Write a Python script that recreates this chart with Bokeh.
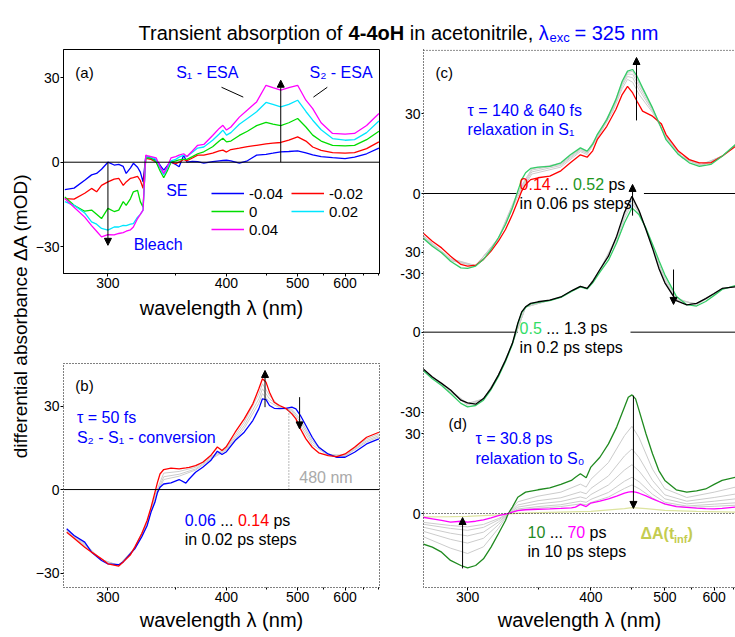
import json
import math
from bokeh.plotting import figure
from bokeh.models import (Range1d, FixedTicker, CustomJSTickFormatter, Label, Arrow, NormalHead,
                          Span, Legend, LegendItem)
from bokeh.layouts import row, column
from bokeh.embed import file_html
from bokeh.resources import INLINE

FONT = "Liberation Sans"

# ---------------------------------------------------------------- data
x_major = [300, 400, 500, 600]
x_minor = [350, 450, 550, 650, 700]

# panel (a): delay times -0.04 ... 0.04 ps
wl_a = [275, 280, 286, 290, 293, 296, 300, 304, 307, 310, 312, 315, 317, 320, 322, 324, 326, 328, 330, 334,
        337, 340, 343, 346, 350, 353, 357, 360, 365, 370, 376, 385, 392, 396, 400, 405, 415, 425, 437, 450,
        460, 472, 485, 500, 515, 528, 545, 570, 600, 625, 660, 700]
a_labels = ["-0.04", "-0.02", "0", "0.02", "0.04"]
a_m004 = [-9.7, -9.2, -6.4, -4.5, -4.0, -2.5, 0.0, -1.0, -0.8, -1.5, -4.0, -2.0, -0.4, -1.8, -3.5, -7.0, 2.0, 1.8,
          1.4, 0.7, -1.0, -2.8, -1.2, 0.0, -0.8, -1.6, 2.5, 0.0, 0.3, 0.2, -0.3, 0.2, 0.5, 0.6, 0.7, 0.5, -0.3,
          0.5, 2.5, 2.8, 3.2, 3.7, 3.8, 4.0, 3.3, 2.6, 2.0, 1.6, 1.3, 1.8, 3.0, 5.0]
a_m002 = [-12.9, -13.1, -11.0, -9.3, -10.5, -8.2, -7.0, -6.0, -5.7, -8.2, -7.0, -5.7, -5.5, -5.0, -6.5, -9.3, 1.4,
          1.2, 1.0, 0.0, -2.0, -4.0, -2.0, 0.0, -0.5, 0.0, 1.0, 0.5, 1.5, 2.5, 2.5, 3.2, 4.0, 4.3, 3.6, 4.5, 5.0,
          5.5, 6.0, 6.5, 6.8, 7.0, 7.8, 9.0, 7.5, 5.4, 4.2, 3.4, 3.2, 3.4, 4.8, 7.2]
a_0 = [-12.3, -15.3, -17.4, -17.0, -18.5, -20.0, -16.4, -17.5, -17.0, -14.0, -15.3, -12.9, -10.5, -10.0, -14.0,
       -16.0, 1.5, 1.5, 1.5, 0.0, -3.0, -5.5, -3.0, 0.0, 0.5, 0.8, 1.0, 1.0, 2.0, 3.0, 3.7, 5.5, 7.5, 8.5, 7.2,
       7.5, 9.5, 11.0, 13.0, 14.1, 13.5, 13.0, 14.0, 15.5, 12.5, 9.6, 7.5, 6.0, 5.8, 6.0, 8.0, 11.0]
a_p002 = [-14.0, -15.3, -18.0, -21.2, -22.0, -23.5, -24.1, -23.0, -23.0, -22.4, -22.5, -22.0, -21.8, -19.5, -18.5,
          -17.0, 2.0, 2.0, 1.8, 1.0, -2.0, -4.5, -2.0, 0.5, 1.0, 1.8, 2.5, 2.0, 3.5, 5.0, 5.4, 7.8, 10.0, 11.4,
          9.6, 10.5, 13.5, 15.5, 17.9, 21.2, 20.5, 19.6, 20.5, 22.0, 18.0, 14.9, 11.5, 8.4, 7.8, 8.0, 10.5, 14.6]
a_p004 = [-12.9, -16.0, -19.5, -22.5, -24.5, -26.5, -25.7, -25.8, -25.3, -25.0, -24.5, -24.0, -23.0, -20.0, -18.5,
          -17.0, 2.5, 2.2, 2.0, 1.5, -1.5, -4.0, -1.5, 1.5, 2.0, 2.5, 3.0, 2.0, 4.0, 6.0, 6.3, 9.5, 12.0, 13.1,
          11.4, 12.5, 16.0, 18.5, 21.4, 27.3, 26.5, 25.6, 26.5, 27.3, 22.0, 19.0, 14.0, 10.2, 10.0, 10.2, 13.0, 17.3]

# panel (b): 0.06 ... 0.14 ps
wl_b = [276, 280, 286, 290, 296, 300, 307, 310, 315, 318, 323, 327, 330, 333, 335, 337, 340, 346, 353, 359, 362,
        368, 375, 383, 390, 395, 400, 410, 421, 432, 440, 445, 450, 455, 462, 470, 480, 490, 497, 505, 515, 527,
        540, 560, 580, 600, 625, 660, 700]
b_006 = [-14.1, -16.5, -18.9, -22.5, -25.5, -26.7, -27.0, -26.0, -23.0, -21.3, -17.0, -13.0, -8.1, -4.6, -1.0, 0.8,
         2.0, 2.4, 3.6, 2.3, 3.8, 6.2, 8.0, 10.4, 13.8, 12.6, 13.6, 17.6, 20.6, 24.8, 29.0, 32.6, 32.3, 30.2, 29.2,
         29.1, 29.2, 29.6, 29.0, 26.6, 23.0, 18.8, 15.2, 12.8, 11.6, 11.6, 13.4, 16.4, 18.2]
b_014 = [-15.3, -17.5, -20.7, -22.5, -24.9, -26.7, -27.5, -26.0, -23.4, -20.7, -15.9, -11.1, -6.4, -1.0, 2.6, 5.6,
         7.2, 7.7, 7.4, 7.8, 8.0, 8.6, 9.8, 12.2, 15.3, 14.0, 15.5, 20.6, 25.4, 30.8, 36.2, 39.8, 38.6, 35.0, 31.4,
         30.2, 29.2, 27.2, 25.4, 21.8, 18.2, 15.2, 13.2, 12.2, 11.8, 12.8, 15.2, 18.8, 20.6]
wl_bg = [276, 286, 296, 307, 318, 327, 333, 340, 353, 368, 383, 400, 421, 440, 445, 455, 470, 490, 505, 527, 560,
         600, 660, 700]
b_008 = [-14.5, -19.4, -25.3, -27.2, -21.1, -12.4, -3.5, 3.6, 4.8, 7.0, 10.9, 14.2, 22.0, 31.0, 34.5, 31.5, 29.4,
         28.9, 25.2, 17.7, 12.6, 12.0, 17.1, 18.9]
b_010 = [-14.7, -19.8, -25.2, -27.3, -21.0, -12.0, -2.8, 4.6, 5.5, 7.4, 11.3, 14.6, 23.0, 32.6, 36.2, 32.6, 29.7,
         28.4, 24.2, 17.0, 12.5, 12.2, 17.6, 19.4]
b_012 = [-15.0, -20.2, -25.1, -27.4, -20.8, -11.6, -2.0, 5.9, 6.5, 8.0, 11.7, 15.0, 24.2, 34.4, 38.0, 33.8, 29.9,
         27.8, 23.0, 16.1, 12.3, 12.5, 18.2, 20.0]

# panel (c), upper: 0.14 ... 0.52 ps
wl_c = [275, 280, 285, 290, 296, 300, 305, 310, 315, 320, 325, 330, 334, 337, 340, 344, 350, 360, 370, 379, 389,
        396, 402, 407, 418, 429, 437, 444, 451, 457, 465, 480, 494, 502, 524, 545, 566, 592, 620, 657]
c_014 = [-14.7, -17.9, -20.4, -23.5, -26.6, -27.2, -26.9, -24.7, -21.6, -17.9, -13.5, -7.9, -2.9, 0.9, 3.4, 5.2,
         5.9, 6.5, 8.5, 11.5, 14.5, 13.6, 16.0, 20.2, 25.2, 31.5, 37.1, 40.2, 37.7, 34.6, 30.9, 29.0, 26.2, 22.1,
         15.9, 12.7, 11.5, 11.5, 14.0, 17.7]
c_052 = [-16.6, -19.8, -22.2, -25.4, -27.9, -28.1, -27.2, -24.7, -21.0, -16.6, -11.6, -5.4, 0.9, 5.2, 7.8, 9.4,
         9.9, 10.2, 11.5, 14.5, 17.1, 15.9, 18.5, 22.1, 27.7, 35.2, 42.1, 45.9, 46.5, 44.0, 39.6, 32.1, 24.6, 20.2,
         14.6, 11.5, 10.2, 10.9, 14.0, 18.4]
wl_cg = [275, 290, 305, 320, 334, 345, 370, 389, 396, 410, 425, 437, 444, 451, 460, 480, 500, 530, 570, 620, 657]
c_gray = [
    [-15.6, -24.4, -27.0, -17.3, -1.2, 7.3, 9.9, 15.7, 14.6, 22.4, 30.6, 39.3, 42.8, 41.7, 37.1, 30.4, 22.2, 14.0,
     10.9, 14.0, 18.0],
    [-15.9, -24.7, -27.1, -17.1, -0.4, 8.1, 10.5, 16.2, 15.1, 22.9, 31.3, 40.4, 43.9, 43.4, 38.9, 31.0, 21.8, 13.7,
     10.7, 14.0, 18.2],
    [-16.2, -25.0, -27.1, -16.9, 0.1, 8.8, 10.9, 16.6, 15.4, 23.2, 31.8, 41.1, 44.8, 44.7, 40.2, 31.5, 21.6, 13.5,
     10.5, 14.0, 18.3],
    [-16.4, -25.2, -27.2, -16.7, 0.6, 9.3, 11.3, 16.9, 15.7, 23.4, 32.2, 41.7, 45.4, 45.8, 41.3, 31.9, 21.4, 13.4,
     10.3, 14.0, 18.3],
]

# panel (c), lower: 0.5 ... 1.3 ps
wl_lc = [275, 280, 285, 290, 296, 300, 305, 310, 315, 320, 325, 330, 332, 334, 337, 340, 344, 350, 360, 370, 381,
         389, 396, 402, 410, 420, 430, 440, 450, 460, 470, 480, 490, 500, 520, 540, 560, 580, 600, 620, 657]
lc_05 = [-14.2, -17.5, -20.0, -23.0, -26.7, -28.0, -27.5, -25.5, -21.5, -16.7, -11.0, -4.5, -1.0, 3.0, 7.3, 9.3,
         10.6, 11.2, 11.8, 13.0, 15.5, 17.0, 16.2, 18.5, 22.5, 27.0, 33.5, 41.0, 46.6, 44.0, 39.0, 33.0, 27.0, 21.5,
         13.5, 10.3, 9.8, 11.5, 13.8, 16.0, 17.5]
lc_13 = [-13.6, -16.8, -19.2, -21.7, -25.5, -26.5, -27.0, -24.9, -21.1, -16.1, -10.5, -4.2, -0.5, 3.3, 7.6, 9.5,
         10.8, 11.4, 12.0, 13.2, 15.7, 17.2, 16.4, 19.0, 23.5, 28.5, 36.0, 45.0, 51.0, 45.5, 38.5, 31.5, 24.0, 18.5,
         11.8, 10.2, 10.8, 12.6, 14.5, 16.4, 17.0]
wl_lg = [275, 290, 300, 310, 320, 330, 340, 370, 389, 396, 410, 430, 440, 450, 460, 470, 480, 490, 500, 520, 560,
         620, 657]
lc_gray = [
    [-14.0, -22.5, -27.4, -25.3, -16.5, -4.4, 9.4, 13.1, 17.1, 16.3, 22.9, 34.5, 42.6, 48.4, 44.6, 38.8, 32.4, 25.8,
     20.3, 12.8, 10.2, 16.2, 17.3],
    [-13.8, -22.1, -26.9, -25.1, -16.3, -4.3, 9.4, 13.1, 17.1, 16.3, 23.2, 35.3, 43.8, 49.7, 45.1, 38.7, 31.9, 24.9,
     19.4, 12.3, 10.5, 16.3, 17.2],
    [-13.7, -21.9, -26.7, -25.0, -16.2, -4.2, 9.5, 13.2, 17.2, 16.4, 23.4, 35.7, 44.5, 50.5, 45.3, 38.6, 31.7, 24.4,
     18.9, 12.0, 10.7, 16.4, 17.1],
]

# panel (d): 10 ... 70 ps
wl_d = [275, 280, 285, 290, 296, 300, 305, 310, 315, 320, 325, 327, 330, 334, 340, 350, 360, 370, 380, 384, 389,
        395, 400, 410, 420, 430, 440, 445, 450, 455, 460, 470, 480, 490, 500, 520, 540, 560, 580, 600, 620, 657]
d_10 = [-11.4, -12.6, -14.5, -17.6, -19.5, -20.4, -19.5, -17.0, -12.6, -7.6, -2.6, 0.0, 2.4, 6.1, 8.0, 8.9, 9.6,
        10.9, 12.4, 13.6, 14.9, 13.4, 17.4, 21.1, 26.1, 32.4, 39.9, 43.6, 44.5, 43.0, 38.6, 29.9, 22.4, 16.1, 12.4,
        8.9, 8.0, 8.5, 9.2, 10.9, 12.4, 13.6]
d_70 = [-1.4, -2.0, -2.6, -3.2, -2.9, -3.2, -2.9, -2.4, -1.6, -0.8, -0.2, 0.0, 0.5, 1.1, 1.4, 1.6, 1.7, 1.9, 2.1,
        2.4, 3.4, 2.6, 3.9, 4.6, 5.5, 6.5, 7.6, 8.0, 8.2, 8.0, 7.6, 6.6, 5.5, 4.5, 3.6, 2.6, 2.3, 2.0, 1.8, 1.7,
        1.9, 2.4]
wl_dg = [275, 290, 300, 310, 320, 327, 334, 350, 370, 389, 395, 400, 420, 440, 450, 460, 480, 500, 540, 600, 657]
d_gray = [
    [-8.6, -13.0, -15.0, -12.5, -5.6, 0.0, 4.4, 6.5, 8.0, 11.0, 9.9, 12.8, 19.1, 29.2, 32.7, 28.4, 16.6, 9.3, 6.0,
     8.0, 9.9],
    [-6.6, -9.7, -11.1, -9.3, -4.2, 0.0, 3.2, 4.8, 5.9, 8.1, 7.4, 9.4, 14.1, 21.6, 24.2, 21.0, 12.4, 7.0, 4.6, 6.0,
     7.3],
    [-5.1, -7.4, -8.4, -7.0, -3.2, 0.0, 2.4, 3.6, 4.5, 6.2, 5.6, 7.1, 10.7, 16.3, 18.3, 15.9, 9.5, 5.5, 3.6, 4.6,
     5.5],
    [-4.0, -5.6, -6.3, -5.2, -2.4, 0.0, 1.7, 2.6, 3.3, 4.6, 4.2, 5.3, 7.9, 12.1, 13.6, 11.9, 7.2, 4.2, 2.8, 3.5,
     4.0],
    [-3.3, -4.5, -5.0, -4.1, -1.9, 0.0, 1.3, 2.0, 2.6, 3.6, 3.3, 4.1, 6.2, 9.4, 10.7, 9.3, 5.8, 3.4, 2.3, 2.7, 3.1],
]
wl_t = [275, 290, 300, 320, 330, 350, 400, 440, 450, 470, 500, 560, 657]
d_inf = [-1.3, -1.2, -1.1, -0.5, 0.0, 0.3, 0.8, 1.8, 2.2, 1.8, 1.2, 0.8, 0.5]

# vertical offsets of the stacked spectra in the right column
OFF_CU, OFF_CL, OFF_D = 120, 68, 0

# ---------------------------------------------------------------- colours
BLUE, RED, MAG = "#0000ff", "#ff0000", "#ff00ff"
A_GREEN, A_CYAN = "#00dd00", "#00e6ff"
GRAY = "#cccccc"
C_GREEN, C_GREEN_TXT, C_LGREEN_TXT = "#33cc66", "#1e961e", "#33dd66"
D_GREEN = "#1f8a1f"
INF_LINE, INF_TXT = "#dde4a0", "#c4cc50"


def wn(seq):
    return [1e7 / v for v in seq]


def k(lam):
    return 1e7 / lam


def fig(w, h, xr, yr, **kw):
    p = figure(width=w, height=h, x_range=xr, y_range=yr, output_backend="svg", toolbar_location=None, **kw)
    p.xgrid.visible = False
    p.ygrid.visible = False
    p.background_fill_color = "white"
    p.border_fill_color = "white"
    return p


def style_axes(p, yticks, dotted=False, minor=x_minor):
    ax = p.xaxis[0]
    ax.ticker = FixedTicker(ticks=wn(x_major), minor_ticks=wn(minor))
    ax.formatter = CustomJSTickFormatter(code="return Math.round(1e7/tick).toString();")
    ax.axis_label = "wavelength \u03bb (nm)"
    ay = p.yaxis[0]
    if yticks is not None:
        ay.ticker = FixedTicker(ticks=yticks, minor_ticks=[])
    for a in (ax, ay):
        a.major_label_text_font = FONT
        a.major_label_text_font_size = "14px"
        a.major_label_text_color = "black"
        a.major_tick_in = 0
        a.major_tick_out = 3
        a.minor_tick_in = 0
        a.minor_tick_out = 2
        a.major_label_standoff = 1
        a.axis_label_text_font = FONT
        a.axis_label_text_font_size = "20px"
        a.axis_label_text_font_style = "normal"
        a.axis_label_text_color = "black"
        a.axis_line_color = "black"
        if dotted:
            a.axis_line_dash = "1 2"
    ax.axis_label_standoff = 4


def lab(p, lam, y, text, color="black", size=16, xo=0, yo=0, st="normal"):
    p.add_layout(Label(x=k(lam), y=y, text=text, text_color=color, text_font=FONT,
                       text_font_size=f"{size}px", text_font_style=st, text_baseline="middle",
                       text_align="left", x_offset=xo, y_offset=yo))


def arrow(p, lam, y0, y1):
    p.add_layout(Arrow(end=NormalHead(size=7, fill_color="black", line_color="black", line_width=1),
                       x_start=k(lam), y_start=y0, x_end=k(lam), y_end=y1, line_width=1, line_color="black"))


XR_LEFT = (k(274.3), k(702.0))
TOP_H, BODY_H = 46, 591
YL_W, LEFT_W, RIGHT_W = 32, 358, 345

# ---------------------------------------------------------------- title
tf = fig(YL_W + LEFT_W + RIGHT_W, TOP_H, Range1d(0, 735), Range1d(0, TOP_H),
         x_axis_type=None, y_axis_type=None, min_border=0)
tf.outline_line_color = None
for x, y, t, c, s, st in [
    (138.0, 14, "Transient absorption of", "black", 20, "normal"),
    (348.1, 14, "4-4oH", "black", 20, "bold"),
    (409.3, 14, "in acetonitrile,", "black", 20, "normal"),
    (538.2, 14, "\u03bb", BLUE, 20, "normal"),
    (549.0, 9, "exc", BLUE, 13, "normal"),
    (574.0, 14, "= 325 nm", BLUE, 20, "normal"),
]:
    tf.add_layout(Label(x=x, y=y, text=t, text_color=c, text_font=FONT, text_font_size=f"{s}px",
                        text_font_style=st, text_baseline="alphabetic", text_align="left"))

# ---------------------------------------------------------------- y label column
yl = fig(YL_W, BODY_H, Range1d(0, YL_W), Range1d(0, BODY_H), x_axis_type=None, y_axis_type=None, min_border=0)
yl.outline_line_color = None
yl.add_layout(Label(x=20, y=142, text="differential absorbance \u0394A (mOD)",
                    angle=math.pi / 2, text_font=FONT, text_font_size="19px", text_align="left",
                    text_baseline="middle", text_color="black"))

# ---------------------------------------------------------------- panel (a)
pa = fig(LEFT_W, 289, Range1d(*XR_LEFT), Range1d(-39.5, 40),
         min_border_left=27, min_border_right=11, min_border_top=3, min_border_bottom=62)
style_axes(pa, [-30, 0, 30])
pa.xaxis[0].axis_label_standoff = 6
pa.outline_line_color = "black"
pa.outline_line_alpha = 1
pa.add_layout(Span(location=0, dimension="width", line_color="black", line_width=1))
xa = wn(wl_a)
ra = []
for vals, col in zip([a_m004, a_m002, a_0, a_p002, a_p004], [BLUE, RED, A_GREEN, A_CYAN, MAG]):
    ra.append(pa.line(xa, vals, line_color=col, line_width=1.3))
legend = Legend(items=[LegendItem(label=l, renderers=[r]) for l, r in zip(a_labels, ra)],
                location=(148, 35), orientation="horizontal", ncols=2,
                glyph_width=33, glyph_height=18, label_height=18, label_width=42, label_standoff=5,
                spacing=0, padding=0, margin=0, border_line_color=None, background_fill_alpha=0,
                label_text_font=FONT, label_text_font_size="15px", label_text_color="black")
pa.add_layout(legend)
arrow(pa, 300, 0, -29.5)
arrow(pa, 472, 0, 29.1)
pa.segment(x0=[k(394.5), k(529.4)], y0=[26.6, 23.1], x1=[k(419.8), k(558.2)], y1=[23.1, 26.6],
           line_color="black", line_width=1)
lab(pa, 280.7, 32, "(a)", size=15)
lab(pa, 350.4, 32, "S\u2081 - ESA", BLUE)
lab(pa, 521.8, 32, "S\u2082 - ESA", BLUE)
lab(pa, 342, -10.2, "SE", BLUE)
lab(pa, 317.2, -29.1, "Bleach", BLUE)

# ---------------------------------------------------------------- panel (b)
pb = fig(LEFT_W, BODY_H - 289, Range1d(*XR_LEFT), Range1d(-35.2, 45.3),
         min_border_left=27, min_border_right=11, min_border_top=28, min_border_bottom=50)
style_axes(pb, [-30, 0, 30], dotted=True)
pb.xaxis[0].axis_line_color = None
pb.yaxis[0].axis_line_color = None
pb.outline_line_color = "black"
pb.outline_line_dash = "1 2"
pb.add_layout(Span(location=0, dimension="width", line_color="black", line_width=1))
for vals in (b_008, b_010, b_012):
    pb.line(wn(wl_bg), vals, line_color=GRAY, line_width=1)
pb.line(wn(wl_b), b_006, line_color=BLUE, line_width=1.3)
pb.line(wn(wl_b), b_014, line_color=RED, line_width=1.3)
pb.segment(x0=[k(485)], y0=[0], x1=[k(485)], y1=[28.5], line_color="#888888", line_width=1.2, line_dash="1 2")
arrow(pb, 448.6, 29.6, 42.8)
arrow(pb, 503.5, 33.2, 21.8)
lab(pb, 280.7, 37.4, "(b)", size=15)
lab(pb, 281.6, 26.0, "\u03c4 = 50 fs", BLUE)
lab(pb, 281.6, 18.6, "S\u2082 - S\u2081 - conversion", BLUE)
lab(pb, 357.9, -11.1, "0.06", BLUE)
lab(pb, 357.9, -11.1, "...", xo=35.5)
lab(pb, 357.9, -11.1, "0.14", RED, xo=53.3)
lab(pb, 357.9, -11.1, "ps", xo=88.8)
lab(pb, 357.9, -18.0, "in 0.02 ps steps")
lab(pb, 503, 4.4, "480 nm", "#aaaaaa")

# ---------------------------------------------------------------- right column: (c) and (d)
pr = fig(RIGHT_W, BODY_H, Range1d(k(275.4), k(656.8)), Range1d(-27.75, 174.0),
         min_border_left=33, min_border_right=0, min_border_top=3, min_border_bottom=50)
tick_map = {}
for off, vals in [(OFF_D, [0, 30]), (OFF_CL, [-30, 0, 30]), (OFF_CU, [-30, 0, 30])]:
    for v in vals:
        tick_map[str(off + v)] = str(v)
style_axes(pr, sorted(int(t) for t in tick_map), dotted=True, minor=[350, 450, 550, 650])
pr.yaxis[0].major_tick_out = 2
pr.yaxis[0].formatter = CustomJSTickFormatter(
    code="const m = " + json.dumps(tick_map) + "; const key = String(Math.round(tick)); return (key in m) ? m[key] : '';")
pr.outline_line_color = None
pr.add_layout(Span(location=173.7, dimension="width", line_color="black", line_width=1, line_dash="1 2"))
pr.add_layout(Span(location=OFF_D, dimension="width", line_color="black", line_width=1, line_dash="1 2"))
pr.segment(x0=[k(275), k(467), k(275), k(448)], y0=[OFF_CU, OFF_CU, OFF_CL, OFF_CL],
           x1=[k(335), k(700), k(334), k(700)], y1=[OFF_CU, OFF_CU, OFF_CL, OFF_CL],
           line_color="black", line_width=1)

# upper (c)
for vals in c_gray:
    pr.line(wn(wl_cg), [v + OFF_CU for v in vals], line_color=GRAY, line_width=1)
pr.line(wn(wl_c), [v + OFF_CU for v in c_014], line_color=RED, line_width=1.3)
pr.line(wn(wl_c), [v + OFF_CU for v in c_052], line_color=C_GREEN, line_width=1.3)
# lower (c)
for vals in lc_gray:
    pr.line(wn(wl_lg), [v + OFF_CL for v in vals], line_color=GRAY, line_width=1)
pr.line(wn(wl_lc), [v + OFF_CL for v in lc_05], line_color=C_GREEN, line_width=1.3)
pr.line(wn(wl_lc), [v + OFF_CL for v in lc_13], line_color="black", line_width=1.3)
# (d)
for vals in d_gray:
    pr.line(wn(wl_dg), [v + OFF_D for v in vals], line_color=GRAY, line_width=1)
pr.line(wn(wl_t), [v + OFF_D for v in d_inf], line_color=INF_LINE, line_width=1.3)
pr.line(wn(wl_d), [v + OFF_D for v in d_10], line_color=D_GREEN, line_width=1.3)
pr.line(wn(wl_d), [v + OFF_D for v in d_70], line_color=MAG, line_width=1.3)

arrow(pr, 456.3, 147.4, 171.0)
arrow(pr, 450.8, 111.7, 123.4)
arrow(pr, 515.1, 91.5, 78.4)
arrow(pr, 297.0, -20.6, -1.5)
arrow(pr, 452.0, 44.2, 1.9)

lab(pr, 281.7, 165.4, "(c)", size=15)
lab(pr, 300.0, 151.1, "\u03c4 = 140 & 640 fs", BLUE)
lab(pr, 300.0, 144.0, "relaxation in S\u2081", BLUE)
lab(pr, 335.4, 123.4, "0.14", RED)
lab(pr, 335.4, 123.4, "...", xo=35.5)
lab(pr, 335.4, 123.4, "0.52", C_GREEN_TXT, xo=53.3)
lab(pr, 335.4, 123.4, "ps", xo=88.8)
lab(pr, 335.4, 116.2, "in 0.06 ps steps")
lab(pr, 335.4, 69.7, "0.5", C_LGREEN_TXT)
lab(pr, 335.4, 69.7, "...", xo=26.6)
lab(pr, 335.4, 69.7, "1.3", xo=44.3)
lab(pr, 335.4, 69.7, "ps", xo=70.9)
lab(pr, 335.4, 62.2, "in 0.2 ps steps")
lab(pr, 288.9, 33.7, "(d)", size=15)
lab(pr, 304.9, 28.1, "\u03c4 = 30.8 ps", BLUE)
lab(pr, 304.9, 20.6, "relaxation to S\u2080", BLUE)
lab(pr, 341.5, -7.1, "10", D_GREEN)
lab(pr, 341.5, -7.1, "...", xo=22.2)
lab(pr, 341.5, -7.1, "70", MAG, xo=39.9)
lab(pr, 341.5, -7.1, "ps", xo=62.1)
lab(pr, 341.5, -14.2, "in 10 ps steps")
lab(pr, 462.0, -7.5, "\u0394A(t", INF_TXT, st="bold")
lab(pr, 462.0, -7.5, "inf", INF_TXT, size=11, xo=33.5, yo=-5, st="bold")
lab(pr, 462.0, -7.5, ")", INF_TXT, xo=47.0, st="bold")

layout = column(tf, row(yl, column(pa, pb), pr))
open("out.html", "w").write(file_html(layout, INLINE))
